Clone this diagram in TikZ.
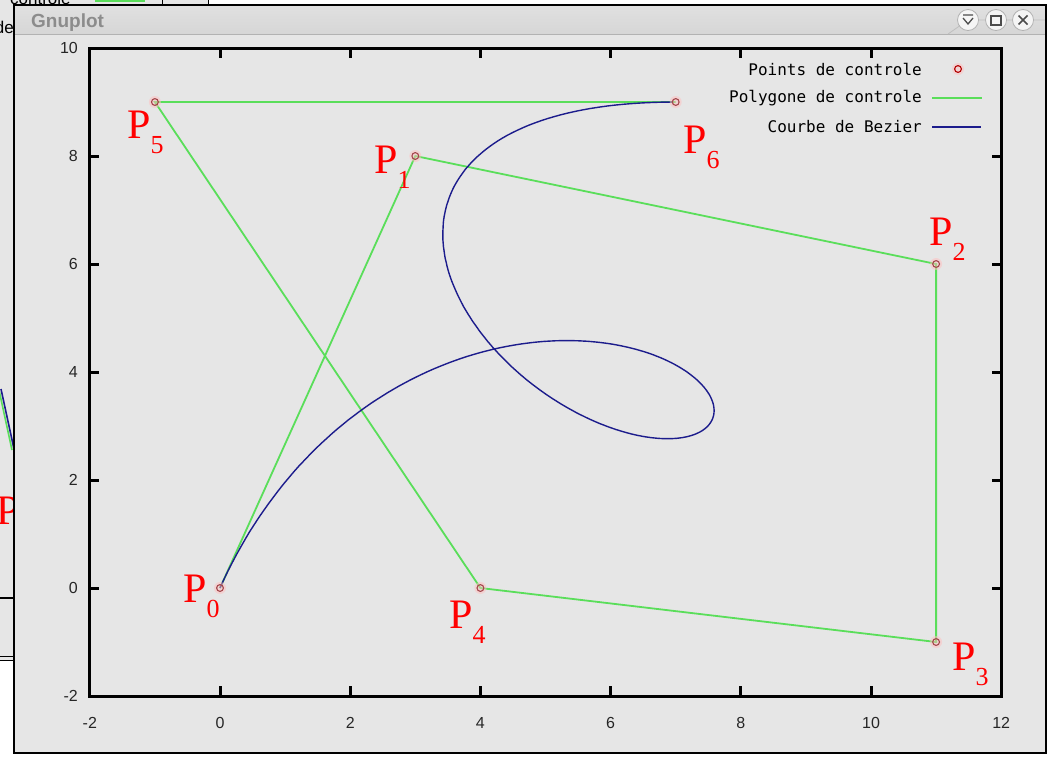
\documentclass[tikz,border=0pt]{standalone}
\usepackage{fontspec}
\setmainfont{Liberation Serif}
\newfontfamily\tickfont{Liberation Sans}
\newfontfamily\keyfont{DejaVu Sans Mono}
\usetikzlibrary{positioning}
\definecolor{wingray}{RGB}{230,230,230}
\definecolor{bargray}{RGB}{214,214,214}
\definecolor{polygreen}{RGB}{90,222,90}
\definecolor{curveblue}{RGB}{28,28,140}
\definecolor{ptred}{RGB}{165,70,75}
\newcommand{\ptlabel}[1]{P\raisebox{-15pt}{\fontsize{26pt}{26pt}\selectfont #1}}
\tikzset{
  frame/.style={line width=3pt, line cap=rect},
  polyline/.style={polygreen, line width=1.8pt},
  bezline/.style={curveblue, line width=1.4pt},
  ptmark/.style={draw=ptred, line width=1.1pt},
  ticklab/.style={font=\tickfont\fontsize{16pt}{16pt}\selectfont, black!85, inner sep=0pt},
  keytext/.style={font=\keyfont\fontsize{16pt}{16pt}\selectfont, inner sep=0pt},
  plabel/.style={red, font=\fontsize{42pt}{42pt}\selectfont, inner sep=0pt, anchor=base west},
  winbtn/.style={circle, minimum size=21pt, inner sep=0pt, fill=white!96!black, draw=black!30, line width=0.8pt}
}

\begin{document}
\begin{tikzpicture}[x=1pt, y=-1pt]
  \useasboundingbox (0,0) rectangle (1048,756);
  \fill[white] (0,0) rectangle (1048,756);
  % fenetre de fond (a gauche et en haut)
  \fill[wingray] (0,0) rectangle (14,660);
  \fill[wingray] (0,0) rectangle (208,5);
  \node[font=\tickfont\fontsize{17pt}{17pt}\selectfont, anchor=base west, inner sep=0pt] (oldkey) at (10,4) {contrôle};
  \draw[polygreen, line width=2pt] (95,1) -- (145,1);
  \draw[line width=1pt] (162,0) -- (162,5) (208,0) -- (208,5);
  \node[font=\tickfont\fontsize{17pt}{17pt}\selectfont, anchor=base east, inner sep=0pt] (oldde) at (14,33) {de};
  \draw[polygreen, line width=1.6pt] (-1,390) -- (12,450);
  \draw[curveblue, line width=1.6pt] (1,389) -- (14,449);
  \node[plabel] (oldp) at (-4,524) {P};
  \draw[line width=2pt] (0,598) -- (14,598);
  \draw[line width=1pt] (0,656) -- (14,656) (0,660) -- (14,660);
  % fenetre gnuplot
  \fill[wingray] (14,5) rectangle (1046,753);
  \shade[top color=white!88!black, bottom color=bargray] (14,5) rectangle (1046,34);
  \draw[black!30, line width=1pt] (14,34.5) -- (1046,34.5);
  \node[font=\tickfont\bfseries\fontsize{19pt}{19pt}\selectfont, black!45, anchor=base west, inner sep=0pt] (wintitle) at (31,27) {Gnuplot};
  \draw[black!25, line width=0.8pt] (948,34) -- (968,20) -- (1046,20);
  \node[winbtn] (btnmin) at (968,20) {};
  \node[winbtn] (btnmax) at (996,20) {};
  \node[winbtn] (btnclose) at (1023,20) {};
  \draw[black!70, line width=1.3pt] ([shift={(-5,-5)}]btnmin.center) -- ++(10,0)
    ([shift={(-5,-2)}]btnmin.center) -- ++(5,6) -- ++(5,-6);
  \draw[black!70, line width=1.3pt] ([shift={(-5,-4)}]btnmax.center) rectangle ++(10,9);
  \draw[black!70, line width=1.6pt] ([shift={(-4.5,-4.5)}]btnclose.center) -- ++(9,9)
    ([shift={(4.5,-4.5)}]btnclose.center) -- ++(-9,9);
  \draw[line width=1.6pt] (14,5) rectangle (1046,753);

  % le graphe, en coordonnees des donnees
  \begin{scope}[shift={(220,588)}, x=65.1pt, y=54pt]
    \coordinate (p0) at (0,0);
    \coordinate (p1) at (3,8);
    \coordinate (p2) at (11,6);
    \coordinate (p3) at (11,-1);
    \coordinate (p4) at (4,0);
    \coordinate (p5) at (-1,9);
    \coordinate (p6) at (7,9);
    \draw[frame] (-2,-2) rectangle (12,10);
    \foreach \v in {0,2,...,10} {
      \draw[frame] (\v,-2) -- ++(0,0.15);
      \draw[frame] (\v,10) -- ++(0,-0.15);
    }
    \foreach \v in {0,2,...,8} {
      \draw[frame] (-2,\v) -- ++(0.125,0);
      \draw[frame] (12,\v) -- ++(-0.125,0);
    }
    \foreach \v in {-2,0,...,12}
      \node[ticklab] (xt\v) at (\v,-2.5) {\v};
    \foreach \v in {-2,0,...,10}
      \node[ticklab, anchor=east] (yt\v) at (-2.18,\v) {\v};
    % polygone et courbe
    \draw[polyline] (p0) -- (p1) -- (p2) -- (p3) -- (p4) -- (p5) -- (p6);
    \draw[bezline] plot[domain=0:1, samples=300, variable=\t]
      ({18*\t*(1-\t)^5 + 165*\t^2*(1-\t)^4 + 220*\t^3*(1-\t)^3 + 60*\t^4*(1-\t)^2 - 6*\t^5*(1-\t) + 7*\t^6},
       {48*\t*(1-\t)^5 + 90*\t^2*(1-\t)^4 - 20*\t^3*(1-\t)^3 + 54*\t^5*(1-\t) + 9*\t^6});
    \foreach \i in {0,...,6} {
      \fill[red!25, opacity=0.5] (p\i) circle (6pt);
      \draw[ptmark] (p\i) circle (3.4pt);
    }
  \end{scope}

  % noms des points
  \node[plabel] (lab0) at (183,602) {\ptlabel{0}};
  \node[plabel] (lab1) at (374,173) {\ptlabel{1}};
  \node[plabel] (lab2) at (929,245) {\ptlabel{2}};
  \node[plabel] (lab3) at (952,670) {\ptlabel{3}};
  \node[plabel] (lab4) at (449,628) {\ptlabel{4}};
  \node[plabel] (lab5) at (127,138) {\ptlabel{5}};
  \node[plabel] (lab6) at (683,153) {\ptlabel{6}};

  % legende
  \node[keytext, anchor=east] (key1) at (922,69) {Points de controle};
  \node[keytext, anchor=east] (key2) at (922,98) {Polygone de controle};
  \node[keytext, anchor=east] (key3) at (922,127) {Courbe de Bezier};
  \coordinate[right=36pt of key1] (keypt);
  \fill[red!25, opacity=0.5] (keypt) circle (6pt);
  \draw[ptmark, draw=red!70!black] (keypt) circle (3.4pt);
  \draw[polyline] ([xshift=10pt]key2.east) -- ++(50,0);
  \draw[bezline] ([xshift=10pt]key3.east) -- ++(49,0);
\end{tikzpicture}
\end{document}
